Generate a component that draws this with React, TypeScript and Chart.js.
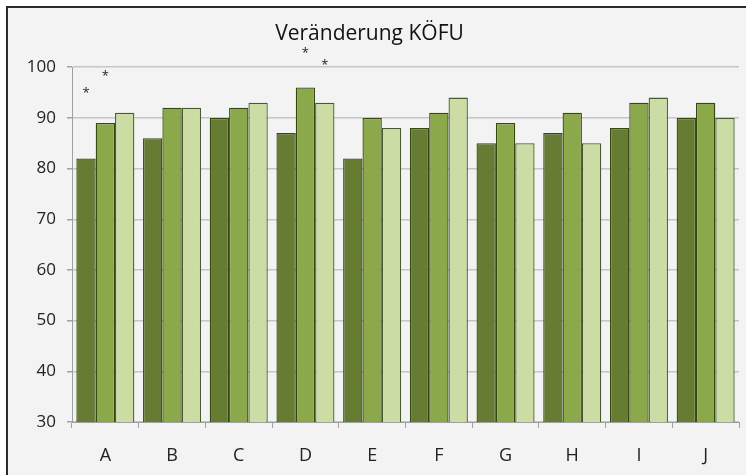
import React, { useEffect, useRef } from "react";
import { Chart, registerables } from "chart.js";

Chart.register(...registerables);

const categories = ["A", "B", "C", "D", "E", "F", "G", "H", "I", "J"];
const series1 = [82, 86, 90, 87, 82, 88, 85, 87, 88, 90];
const series2 = [89, 92, 92, 96, 90, 91, 89, 91, 93, 93];
const series3 = [91, 92, 93, 93, 88, 94, 85, 85, 94, 90];
// asterisk markers (value position on y scale) per series
const marks1 = [95.4, null, null, null, null, null, null, null, null, null];
const marks2 = [98.7, null, null, 103.3, null, null, null, null, null, null];
const marks3 = [null, null, null, 101.0, null, null, null, null, null, null];
const titleText = "Veränderung KÖFU";

const FONT = "'Open Sans', 'DejaVu Sans', sans-serif";

const asteriskPlugin = {
  id: "asterisks",
  afterDatasetsDraw(chart: any) {
    const ctx = chart.ctx;
    const y = chart.scales.y;
    const all = [marks1, marks2, marks3];
    ctx.save();
    ctx.fillStyle = "#222";
    ctx.font = `13px ${FONT}`;
    ctx.textAlign = "center";
    ctx.textBaseline = "middle";
    all.forEach((marks, i) => {
      const meta = chart.getDatasetMeta(i);
      marks.forEach((v, j) => {
        if (v == null) return;
        const el = meta.data[j];
        ctx.fillText("*", el.x, y.getPixelForValue(v) + 3);
      });
    });
    ctx.restore();
  },
};

export default function App() {
  const ref = useRef<HTMLCanvasElement | null>(null);
  useEffect(() => {
    if (!ref.current) return;
    const border = "#34480f";
    const chart = new Chart(ref.current, {
      type: "bar",
      data: {
        labels: categories,
        datasets: [
          { data: series1, backgroundColor: "#667c33", borderColor: border, borderWidth: 1.3 },
          { data: series2, backgroundColor: "#8ba84a", borderColor: border, borderWidth: 1.3 },
          { data: series3, backgroundColor: "#cbdca4", borderColor: "#4a5a30", borderWidth: 1.3 },
        ],
      },
      plugins: [asteriskPlugin],
      options: {
        responsive: false,
        animation: false,
        datasets: { bar: { categoryPercentage: 0.87, barPercentage: 1 } },
        layout: { padding: { left: 0, right: 7, top: 0, bottom: 0 } },
        plugins: {
          legend: { display: false },
          tooltip: { enabled: false },
          title: {
            display: true,
            text: titleText,
            color: "#111",
            font: { family: FONT, size: 21, weight: "normal" },
            padding: { top: 21, bottom: 21 },
          },
        },
        scales: {
          x: {
            afterFit(scale: any) {
              scale.height = 53;
            },
            grid: {
              drawOnChartArea: false,
              drawTicks: true,
              tickLength: 6,
              color: "#a0a0a0",
            },
            border: { display: true, color: "#a0a0a0" },
            ticks: {
              color: "#222",
              font: { family: FONT, size: 18 },
              padding: 17,
            },
          },
          y: {
            min: 30,
            max: 100,
            afterFit(scale: any) {
              scale.width = 72;
            },
            grid: {
              color: "#c6c6c6",
              lineWidth: 1.5,
              tickLength: 5,
              tickColor: "#a0a0a0",
            },
            border: { display: true, color: "#a0a0a0" },
            ticks: {
              stepSize: 10,
              color: "#222",
              font: { family: FONT, size: 17 },
              padding: 11,
            },
          },
        },
      },
    } as any);
    return () => chart.destroy();
  }, []);

  return (
    <div style={{ position: "absolute", left: 0, top: 0, width: 746, height: 475, background: "#fff", overflow: "hidden" }}>
      <div
        style={{
          position: "absolute",
          left: 6,
          top: 6,
          width: 760,
          height: 490,
          background: "#f3f3f3",
          borderLeft: "2px solid #2a2a2a",
          borderTop: "2px solid #2a2a2a",
        }}
      />
      <canvas ref={ref} width={746} height={475} style={{ position: "absolute", left: 0, top: 0 }} />
    </div>
  );
}
